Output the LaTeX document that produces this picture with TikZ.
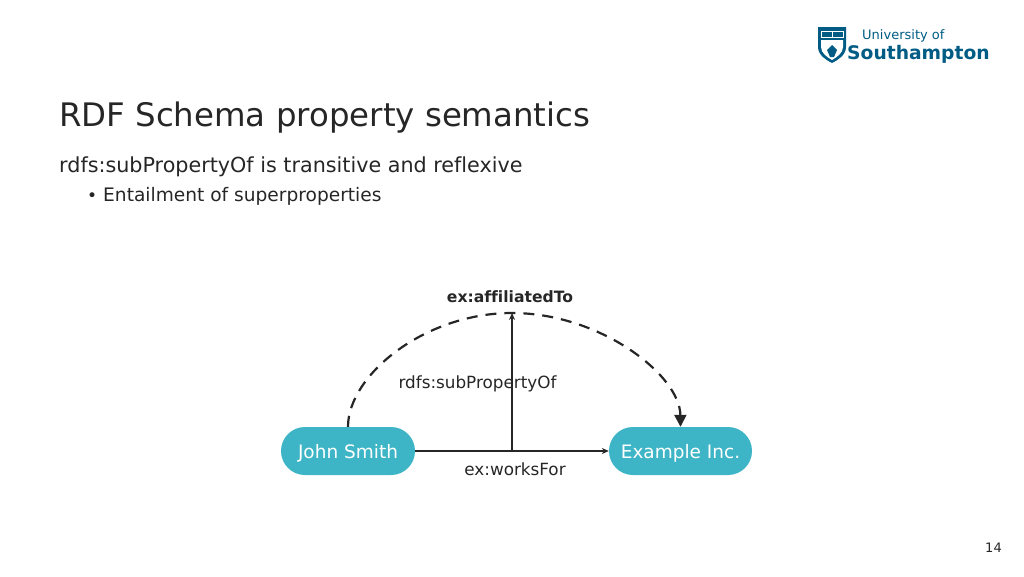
\documentclass[tikz,border=0pt]{standalone}
\usepackage{fontspec}
\setmainfont{DejaVu Sans}[Ligatures=NoCommon]
\usetikzlibrary{arrows.meta}
\definecolor{ink}{HTML}{262626}
\definecolor{teal}{HTML}{3DB5C6}
\definecolor{navy}{HTML}{005C84}
\tikzset{
  pill/.style={fill=teal,rounded corners=23.9pt,minimum height=48pt,text=white,inner sep=0pt,font=\fontsize{18.5}{20}\selectfont},
  txt/.style={text=ink,inner sep=0pt,anchor=base west},
  conn/.style={draw=ink,line width=1.4pt,-{Stealth[length=7pt,width=6pt]}},
  dashconn/.style={draw=ink,line width=2.2pt,dash pattern=on 11pt off 8pt,-{Triangle[length=12pt,width=12pt]}},
  lab/.style={text=ink,inner sep=0pt,font=\fontsize{16.8}{19}\selectfont}
}
\begin{document}
\begin{tikzpicture}[x=1pt,y=-1pt]
\useasboundingbox (0,0) rectangle (1024,576);
% text
\node[txt,font=\fontsize{32.4}{38}\selectfont] (title) at (59,126.5) {RDF Schema property semantics};
\node[txt,font=\fontsize{20.7}{24}\selectfont] (sub) at (59,172.5) {rdfs:subPropertyOf is transitive and reflexive};
\node[txt,font=\fontsize{18.6}{20}\selectfont] (item) at (87,201.5) {\fontsize{17}{20}\selectfont•\hspace{6pt}\fontsize{18.6}{20}\selectfont Entailment of superproperties};
\node[text=ink,inner sep=0pt,font=\fontsize{13}{15}\selectfont] (page) at (993.5,548) {14};
% logo
\fill[navy] (818,27) -- (846,27) -- (846,47) .. controls (846,55) and (838,60) .. (832,63) .. controls (826,60) and (818,55) .. (818,47) -- cycle;
\fill[white] (821,40) -- (843,40) -- (843,47) .. controls (843,53) and (837,57) .. (832,60) .. controls (827,57) and (821,53) .. (821,47) -- cycle;
\fill[navy] (832,45) -- (837,50) -- (834,57) -- (830,57) -- (827,50) -- cycle;
\draw[white,line width=.8pt] (821,31.5) rectangle (843,37);
\draw[white,line width=.8pt] (832,31) -- (832,37);
\node[inner sep=0pt,anchor=base west,text=navy,font=\fontsize{13}{15}\selectfont] (uni) at (862,39) {University of};
\node[inner sep=0pt,anchor=base west,text=navy,font=\bfseries\fontsize{18.7}{24}\selectfont] (soton) at (847,59) {Southampton};
% diagram
\node[pill,minimum width=134pt] (john) at (348,451) {\raisebox{-7pt}[0pt][0pt]{John Smith}};
\node[pill,minimum width=143pt] (inc) at (680.5,451) {\raisebox{-7pt}[0pt][0pt]{Example Inc.}};
\coordinate (join) at (512,451);
\coordinate (top) at (512,313);
\node[lab,font=\bfseries\fontsize{15.6}{18}\selectfont] (aff) at (510,296.5) {ex:affiliatedTo};
\node[lab] (subp) at (477.5,384) {rdfs:subPropertyOf};
\node[lab] (works) at (515,469.5) {ex:worksFor};
\draw[dashconn] (john.north) .. controls (348,375) and (425,313) .. (top) .. controls (600,313) and (680,375) .. (inc.north);
\draw[conn] (john) -- (inc);
\draw[conn] (join) -- (top);
\end{tikzpicture}
\end{document}
